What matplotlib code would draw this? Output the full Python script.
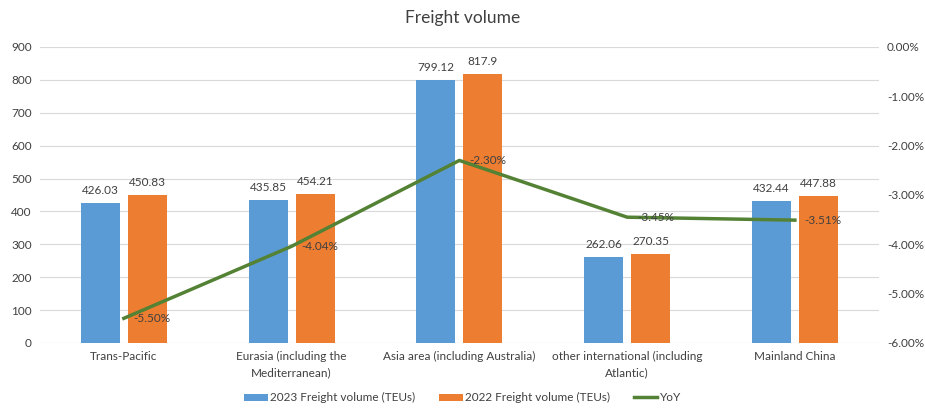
import matplotlib
matplotlib.use("Agg")
import matplotlib.pyplot as plt
import numpy as np
from matplotlib.ticker import FuncFormatter, MultipleLocator

plt.rcParams['font.family'] = ['Lato', 'DejaVu Sans']

categories = ["Trans-Pacific", "Eurasia (including the\nMediterranean)",
              "Asia area (including Australia)", "other international (including\nAtlantic)",
              "Mainland China"]
vol_2023 = [426.03, 435.85, 799.12, 262.06, 432.44]
vol_2022 = [450.83, 454.21, 817.9, 270.35, 447.88]
yoy = [-5.50, -4.04, -2.30, -3.45, -3.51]

c_blue = "#5B9BD5"
c_orange = "#ED7D31"
c_green = "#548235"
c_text = "#404040"
c_grid = "#D9D9D9"

fig = plt.figure(figsize=(9.25, 4.12), dpi=100)
ax = fig.add_axes([0.0432, 0.1675, 0.9068, 0.7185])

x = np.arange(len(categories))
w = 0.232
gap = 0.048
b1 = ax.bar(x - (w + gap) / 2, vol_2023, w, color=c_blue, label="2023 Freight volume (TEUs)", zorder=2)
b2 = ax.bar(x + (w + gap) / 2, vol_2022, w, color=c_orange, label="2022 Freight volume (TEUs)", zorder=2)

for rect, v in zip(list(b1) + list(b2), vol_2023 + vol_2022):
    ax.annotate(f"{v:g}",
                (rect.get_x() + rect.get_width() / 2, v),
                xytext=(0, 5), textcoords="offset points",
                ha="center", va="bottom", fontsize=8.5, color=c_text)

ax.set_xlim(-0.5, len(categories) - 0.5)
ax.set_ylim(0, 900)
ax.yaxis.set_major_locator(MultipleLocator(100))
ax.grid(axis="y", color=c_grid, linewidth=0.8, zorder=0)
ax.set_axisbelow(True)
for s in ax.spines.values():
    s.set_visible(False)
ax.axhline(0, color=c_grid, linewidth=0.8, zorder=1)
ax.tick_params(axis="both", length=0, labelsize=8.5, colors=c_text, pad=6)
ax.set_xticks(x)
ax.set_xticklabels(categories, fontsize=8.5, color=c_text, linespacing=1.5)

ax2 = ax.twinx()
ax2.set_ylim(-6, 0)
ax2.yaxis.set_major_locator(MultipleLocator(1))
ax2.yaxis.set_major_formatter(FuncFormatter(lambda v, p: f"{v:.2f}%"))
for s in ax2.spines.values():
    s.set_visible(False)
ax2.tick_params(axis="y", length=0, labelsize=8.5, colors=c_text, pad=6)
line, = ax2.plot(x, yoy, color=c_green, linewidth=2.5, label="YoY", zorder=3)
for xi, v in zip(x, yoy):
    ax2.annotate(f"{v:.2f}%", (xi, v), xytext=(7, 0), textcoords="offset points",
                 ha="left", va="center", fontsize=8.5, color=c_text)

fig.suptitle("Freight volume", y=0.975, fontsize=12.5, color=c_text)

handles = [b1, b2, line]
fig.legend(handles, [h.get_label() for h in handles], loc="lower center",
           bbox_to_anchor=(0.5, -0.005), ncol=3, frameon=False, fontsize=8.5,
           labelcolor=c_text, handlelength=2.0, handleheight=0.6, columnspacing=2.0,
           handletextpad=0.2)

fig.savefig("out.png", dpi=100)
